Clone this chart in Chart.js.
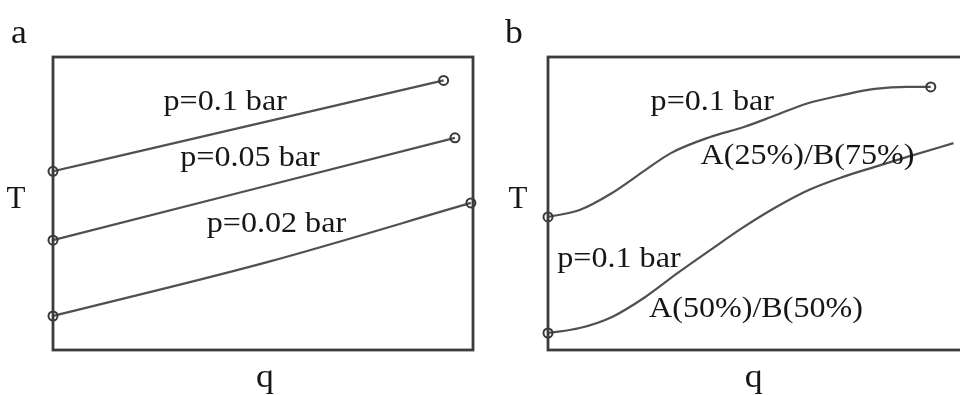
<!DOCTYPE html>
<html>
<head>
<meta charset="utf-8">
<script src="https://cdn.jsdelivr.net/npm/chart.js@4.4.1/dist/chart.umd.min.js"></script>
<style>
  html, body { margin: 0; padding: 0; background: #fff; }
  .panel { position: absolute; top: 0; width: 480px; height: 395px; }
  #wa { left: 0; }
  #wb { left: 480px; }
</style>
</head>
<body>
<div class="panel" id="wa"><canvas id="chartA"></canvas></div>
<div class="panel" id="wb"><canvas id="chartB"></canvas></div>
<script>
// panel a: three straight isobars (q, T in arbitrary 0-100 units)
const a01_q = [0, 93];
const a01_T = [61, 92];
const a005_q = [0, 95.7];
const a005_T = [37.5, 72.4];
const a002_q = [0, 51, 99.5];
const a002_T = [11.6, 30, 50.2];

// panel b: two mixtures at p=0.1 bar
const b25_q = [0, 7.8, 15.8, 24, 30.3, 40, 48.3, 56.3, 64.3, 72.6, 80.6, 88.6, 94.4];
const b25_T = [45.4, 47.8, 53.6, 61.4, 67.2, 72.7, 76.1, 80.2, 84.3, 87, 89.1, 89.8, 89.8];
const b50_q = [0, 7.8, 15.8, 24, 32, 40, 48.3, 56.3, 64.3, 72.6, 80.6, 88.6, 100];
const b50_T = [5.8, 7.5, 11.3, 18.1, 26.3, 34.1, 42, 48.8, 54.6, 59, 62.5, 65.9, 70.6];

// in-plot labels
const aLabels = ['p=0.1 bar', 'p=0.05 bar', 'p=0.02 bar'];
const aLabel_q = [41, 46.9, 53.2];
const aLabel_T = [84.5, 65.5, 43];
const bLabels = ['p=0.1 bar', 'A(25%)/B(75%)', 'p=0.1 bar', 'A(50%)/B(50%)'];
const bLabel_q = [40.5, 64, 17.5, 51.3];
const bLabel_T = [84.5, 66, 31, 14];

const LINE = '#505050';
const FRAME = '#3c3c3c';
const INK = '#161616';
const FONT = '30px "Liberation Serif", "Times New Roman", serif';
const BIG = '34px "Liberation Serif", "Times New Roman", serif';
const STRETCH = 1.07;

function pts(qs, ts) {
  return qs.map((q, i) => ({ x: q, y: ts[i] }));
}

// circles only at the line ends
function ends(n, last) {
  return Array.from({ length: n }, (_, i) => (i === 0 || (last && i === n - 1)) ? 4.5 : 0);
}

function series(qs, ts, showLast) {
  return {
    data: pts(qs, ts),
    borderColor: LINE,
    borderWidth: 2.2,
    cubicInterpolationMode: 'monotone',
    clip: false,
    pointRadius: ends(qs.length, showLast),
    pointBackgroundColor: 'rgba(255,255,255,0)',
    pointBorderColor: '#383838',
    pointBorderWidth: 2
  };
}

function stretched(ctx, text, x, y, sx) {
  ctx.save();
  ctx.translate(x, y);
  ctx.scale(sx, 1);
  ctx.fillText(text, 0, 0);
  ctx.restore();
}

// frame, panel letter, axis names and curve labels
function decorations(letter, tOffset, cut, labels, lq, lt) {
  return {
    id: 'deco' + letter,
    afterDatasetsDraw(chart) {
      const { ctx, chartArea: ca, scales } = chart;
      ctx.save();
      ctx.strokeStyle = FRAME;
      ctx.lineWidth = 2.8;
      ctx.strokeRect(ca.left, ca.top, ca.right - ca.left + (cut ? 20 : 0), ca.bottom - ca.top);

      ctx.fillStyle = INK;
      ctx.textAlign = 'center';
      ctx.textBaseline = 'middle';
      ctx.font = FONT;
      labels.forEach((t, i) => {
        stretched(ctx, t, scales.x.getPixelForValue(lq[i]), scales.y.getPixelForValue(lt[i]), STRETCH);
      });
      ctx.font = '31px "Liberation Serif", serif';
      stretched(ctx, 'T', ca.left + tOffset, 200, 1.0);
      ctx.font = BIG;
      stretched(ctx, letter, ca.left - 34, ca.top - 23, 1.05);
      stretched(ctx, 'q', (ca.left + ca.right) / 2 + (cut ? 3 : 2), ca.bottom + 28, 1.05);
      ctx.restore();
    }
  };
}

function baseOptions(padding) {
  return {
    responsive: true,
    maintainAspectRatio: false,
    animation: false,
    layout: { padding },
    plugins: { legend: { display: false }, tooltip: { enabled: false } },
    scales: {
      x: { type: 'linear', min: 0, max: 100, display: false },
      y: { type: 'linear', min: 0, max: 100, display: false }
    }
  };
}

new Chart(document.getElementById('chartA'), {
  type: 'line',
  data: {
    datasets: [
      series(a01_q, a01_T, true),
      series(a005_q, a005_T, true),
      series(a002_q, a002_T, true)
    ]
  },
  options: baseOptions({ left: 53, top: 57, right: 7, bottom: 45 }),
  plugins: [decorations('a', -37, false, aLabels, aLabel_q, aLabel_T)]
});

new Chart(document.getElementById('chartB'), {
  type: 'line',
  data: {
    datasets: [
      series(b25_q, b25_T, true),
      series(b50_q, b50_T, false)
    ]
  },
  options: baseOptions({ left: 68, top: 57, right: 0, bottom: 45 }),
  plugins: [decorations('b', -30, true, bLabels, bLabel_q, bLabel_T)]
});
</script>
</body>
</html>
